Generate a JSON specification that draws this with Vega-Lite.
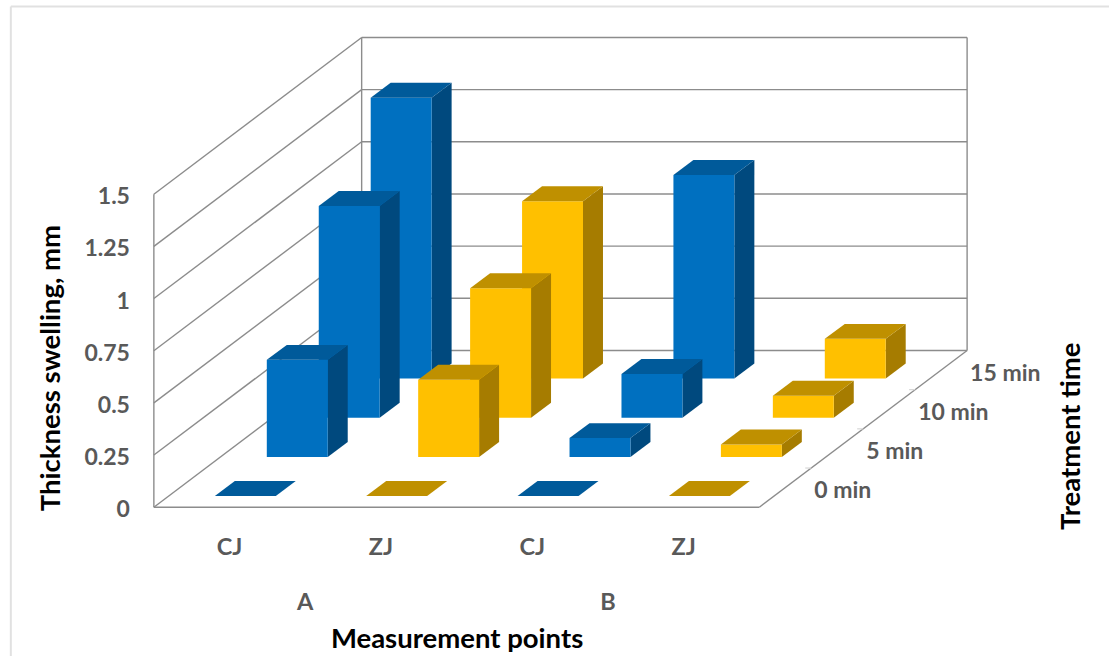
{"$schema":"https://vega.github.io/schema/vega-lite/v6.json","width":1110,"height":657,"padding":0,"autosize":{"type":"fit","contains":"padding"},"background":"white","config":{"view":{"stroke":null},"axis":{"disable":true}},
"datasets":{"bars":[
{"group":"A","joint":"CJ","time":"0 min","value":0},{"group":"A","joint":"ZJ","time":"0 min","value":0},{"group":"B","joint":"CJ","time":"0 min","value":0},{"group":"B","joint":"ZJ","time":"0 min","value":0},
{"group":"A","joint":"CJ","time":"5 min","value":0.465},{"group":"A","joint":"ZJ","time":"5 min","value":0.37},{"group":"B","joint":"CJ","time":"5 min","value":0.09},{"group":"B","joint":"ZJ","time":"5 min","value":0.06},
{"group":"A","joint":"CJ","time":"10 min","value":1.015},{"group":"A","joint":"ZJ","time":"10 min","value":0.62},{"group":"B","joint":"CJ","time":"10 min","value":0.21},{"group":"B","joint":"ZJ","time":"10 min","value":0.105},
{"group":"A","joint":"CJ","time":"15 min","value":1.345},{"group":"A","joint":"ZJ","time":"15 min","value":0.85},{"group":"B","joint":"CJ","time":"15 min","value":0.975},{"group":"B","joint":"ZJ","time":"15 min","value":0.19}],
"ticks":[{"value":0,"label":"0"},{"value":0.25,"label":"0.25"},{"value":0.5,"label":"0.5"},{"value":0.75,"label":"0.75"},{"value":1,"label":"1"},{"value":1.25,"label":"1.25"},{"value":1.5,"label":"1.5"}],
"times":[{"time":"0 min","d":0},{"time":"5 min","d":1},{"time":"10 min","d":2},{"time":"15 min","d":3}],
"joints":[{"joint":"CJ","c":0},{"joint":"ZJ","c":1},{"joint":"CJ","c":2},{"joint":"ZJ","c":3}],
"groups":[{"group":"A","c":1},{"group":"B","c":3}]},
"layer":[
{"data":{"name":"ticks"},"transform":[{"filter":"datum.value==1.5"}],"mark":{"type":"rule","color":"#e1e1e1","strokeWidth":2},"encoding":{"x":{"datum":-0.945,"type":"quantitative","scale":{"domain":[-1.0165,6.3102],"nice":false,"zero":false}},"y":{"datum":2.3995,"type":"quantitative","scale":{"domain":[-0.71292,2.43062],"nice":false,"zero":false}},"x2":{"datum":6.3102},"y2":{"datum":2.3995}}},
{"data":{"name":"ticks"},"transform":[{"filter":"datum.value==1.5"}],"mark":{"type":"rule","color":"#e1e1e1","strokeWidth":2},"encoding":{"x":{"datum":-0.945,"type":"quantitative","scale":{"domain":[-1.0165,6.3102],"nice":false,"zero":false}},"y":{"datum":2.3995,"type":"quantitative","scale":{"domain":[-0.71292,2.43062],"nice":false,"zero":false}},"x2":{"datum":-0.945},"y2":{"datum":-0.71292}}},
{"data":{"name":"ticks"},"transform":[{"calculate":"datum.value+0.7512","as":"yb"}],"mark":{"type":"rule","color":"#8c8c8c","strokeWidth":1.4},"encoding":{"x":{"datum":0,"type":"quantitative","scale":{"domain":[-1.0165,6.3102],"nice":false,"zero":false}},"x2":{"datum":1.3728},"y":{"field":"value","type":"quantitative","scale":{"domain":[-0.71292,2.43062],"nice":false,"zero":false}},"y2":{"field":"yb"}}},
{"data":{"name":"ticks"},"transform":[{"calculate":"datum.value+0.7512","as":"yb"}],"mark":{"type":"rule","color":"#8c8c8c","strokeWidth":1.4},"encoding":{"x":{"datum":1.3728,"type":"quantitative","scale":{"domain":[-1.0165,6.3102],"nice":false,"zero":false}},"x2":{"datum":5.3728},"y":{"field":"yb","type":"quantitative","scale":{"domain":[-0.71292,2.43062],"nice":false,"zero":false}},"y2":{"field":"yb"}}},
{"data":{"name":"ticks"},"transform":[{"filter":"datum.value==1.5"}],"mark":{"type":"rule","color":"#8c8c8c","strokeWidth":1.4},"encoding":{"x":{"datum":0,"type":"quantitative","scale":{"domain":[-1.0165,6.3102],"nice":false,"zero":false}},"y":{"field":"value","type":"quantitative","scale":{"domain":[-0.71292,2.43062],"nice":false,"zero":false}},"y2":{"datum":0}}},
{"data":{"name":"ticks"},"transform":[{"filter":"datum.value==1.5"}],"mark":{"type":"rule","color":"#8c8c8c","strokeWidth":1.4},"encoding":{"x":{"datum":1.3728,"type":"quantitative","scale":{"domain":[-1.0165,6.3102],"nice":false,"zero":false}},"y":{"datum":0.7512,"type":"quantitative","scale":{"domain":[-0.71292,2.43062],"nice":false,"zero":false}},"y2":{"datum":2.2512}}},
{"data":{"name":"ticks"},"transform":[{"filter":"datum.value==1.5"}],"mark":{"type":"rule","color":"#8c8c8c","strokeWidth":1.4},"encoding":{"x":{"datum":5.3728,"type":"quantitative","scale":{"domain":[-1.0165,6.3102],"nice":false,"zero":false}},"y":{"datum":0.7512,"type":"quantitative","scale":{"domain":[-0.71292,2.43062],"nice":false,"zero":false}},"y2":{"datum":2.2512}}},
{"data":{"name":"ticks"},"transform":[{"filter":"datum.value==0"}],"mark":{"type":"rule","color":"#8c8c8c","strokeWidth":1.4},"encoding":{"x":{"datum":0,"type":"quantitative","scale":{"domain":[-1.0165,6.3102],"nice":false,"zero":false}},"x2":{"datum":4},"y":{"field":"value","type":"quantitative","scale":{"domain":[-0.71292,2.43062],"nice":false,"zero":false}},"y2":{"field":"value"}}},
{"data":{"name":"ticks"},"transform":[{"filter":"datum.value==0"}],"mark":{"type":"rule","color":"#8c8c8c","strokeWidth":1.4},"encoding":{"x":{"datum":4,"type":"quantitative","scale":{"domain":[-1.0165,6.3102],"nice":false,"zero":false}},"x2":{"datum":5.3728},"y":{"field":"value","type":"quantitative","scale":{"domain":[-0.71292,2.43062],"nice":false,"zero":false}},"y2":{"datum":0.7512}}},
{"data":{"name":"times"},"transform":[{"filter":"datum.d>0"},{"calculate":"4+datum.d*0.3432","as":"tx"},{"calculate":"datum.tx-0.04","as":"tx2"},{"calculate":"datum.d*0.1878","as":"ty"}],"mark":{"type":"rule","color":"#d6d6d6","strokeWidth":1.2},"encoding":{"x":{"field":"tx","type":"quantitative","scale":{"domain":[-1.0165,6.3102],"nice":false,"zero":false}},"x2":{"field":"tx2"},"y":{"field":"ty","type":"quantitative","scale":{"domain":[-0.71292,2.43062],"nice":false,"zero":false}},"y2":{"field":"ty"}}},
{"data":{"name":"bars"},
"transform":[
{"calculate":"(datum.group=='B'?2:0)+(datum.joint=='ZJ'?1:0)","as":"c"},
{"calculate":"indexof(['0 min','5 min','10 min','15 min'],datum.time)","as":"d"},
{"calculate":"datum.c+0.300+(datum.d+0.3)*0.3432","as":"bx"},
{"calculate":"(datum.d+0.3)*0.1878-0.003","as":"by"},
{"fold":["side","front","top"],"as":["face","fv"]},
{"fold":["e0","e1"],"as":["edge","ev"]},
{"calculate":"datum.edge=='e1'?1:0","as":"e"},
{"calculate":"datum.bx+0.4026+datum.e*0.132","as":"ax"},
{"calculate":"datum.by+datum.e*0.0718","as":"ay"},
{"calculate":"datum.by+datum.value+datum.e*0.0718","as":"ay2"},
{"calculate":"datum.face=='front'?datum.by+datum.e*datum.value:datum.by+datum.value+datum.e*0.0718","as":"hy"},
{"calculate":"datum.face=='front'?datum.bx:datum.bx+datum.e*0.132","as":"hx"},
{"calculate":"datum.hx+0.4026","as":"hx2"},
{"calculate":"datum.joint+' '+datum.face","as":"shade"},
{"calculate":"datum.time+datum.group+datum.joint+datum.face","as":"gid"}],
"layer":[
{"transform":[{"filter":"datum.d==3 && datum.face=='side'"}],"mark":{"type":"area","orient":"vertical"},"encoding":{"x":{"field":"ax","type":"quantitative","scale":{"domain":[-1.0165,6.3102],"nice":false,"zero":false}},"y":{"field":"ay","type":"quantitative","stack":null,"scale":{"domain":[-0.71292,2.43062],"nice":false,"zero":false}},"y2":{"field":"ay2"},"detail":{"field":"gid"},"color":{"field":"shade","legend":null,"scale":{"domain":["CJ front","CJ side","CJ top","ZJ front","ZJ side","ZJ top"],"range":["#0070c0","#00497e","#005a9a","#ffc000","#a67c00","#bf9000"]}}}},
{"transform":[{"filter":"datum.d==3 && datum.face!='side'"}],"mark":{"type":"area","orient":"horizontal"},"encoding":{"y":{"field":"hy","type":"quantitative","scale":{"domain":[-0.71292,2.43062],"nice":false,"zero":false}},"x":{"field":"hx","type":"quantitative","stack":null,"scale":{"domain":[-1.0165,6.3102],"nice":false,"zero":false}},"x2":{"field":"hx2"},"detail":{"field":"gid"},"color":{"field":"shade","legend":null,"scale":{"domain":["CJ front","CJ side","CJ top","ZJ front","ZJ side","ZJ top"],"range":["#0070c0","#00497e","#005a9a","#ffc000","#a67c00","#bf9000"]}}}},
{"transform":[{"filter":"datum.d==2 && datum.face=='side'"}],"mark":{"type":"area","orient":"vertical"},"encoding":{"x":{"field":"ax","type":"quantitative","scale":{"domain":[-1.0165,6.3102],"nice":false,"zero":false}},"y":{"field":"ay","type":"quantitative","stack":null,"scale":{"domain":[-0.71292,2.43062],"nice":false,"zero":false}},"y2":{"field":"ay2"},"detail":{"field":"gid"},"color":{"field":"shade","legend":null,"scale":{"domain":["CJ front","CJ side","CJ top","ZJ front","ZJ side","ZJ top"],"range":["#0070c0","#00497e","#005a9a","#ffc000","#a67c00","#bf9000"]}}}},
{"transform":[{"filter":"datum.d==2 && datum.face!='side'"}],"mark":{"type":"area","orient":"horizontal"},"encoding":{"y":{"field":"hy","type":"quantitative","scale":{"domain":[-0.71292,2.43062],"nice":false,"zero":false}},"x":{"field":"hx","type":"quantitative","stack":null,"scale":{"domain":[-1.0165,6.3102],"nice":false,"zero":false}},"x2":{"field":"hx2"},"detail":{"field":"gid"},"color":{"field":"shade","legend":null,"scale":{"domain":["CJ front","CJ side","CJ top","ZJ front","ZJ side","ZJ top"],"range":["#0070c0","#00497e","#005a9a","#ffc000","#a67c00","#bf9000"]}}}},
{"transform":[{"filter":"datum.d==1 && datum.face=='side'"}],"mark":{"type":"area","orient":"vertical"},"encoding":{"x":{"field":"ax","type":"quantitative","scale":{"domain":[-1.0165,6.3102],"nice":false,"zero":false}},"y":{"field":"ay","type":"quantitative","stack":null,"scale":{"domain":[-0.71292,2.43062],"nice":false,"zero":false}},"y2":{"field":"ay2"},"detail":{"field":"gid"},"color":{"field":"shade","legend":null,"scale":{"domain":["CJ front","CJ side","CJ top","ZJ front","ZJ side","ZJ top"],"range":["#0070c0","#00497e","#005a9a","#ffc000","#a67c00","#bf9000"]}}}},
{"transform":[{"filter":"datum.d==1 && datum.face!='side'"}],"mark":{"type":"area","orient":"horizontal"},"encoding":{"y":{"field":"hy","type":"quantitative","scale":{"domain":[-0.71292,2.43062],"nice":false,"zero":false}},"x":{"field":"hx","type":"quantitative","stack":null,"scale":{"domain":[-1.0165,6.3102],"nice":false,"zero":false}},"x2":{"field":"hx2"},"detail":{"field":"gid"},"color":{"field":"shade","legend":null,"scale":{"domain":["CJ front","CJ side","CJ top","ZJ front","ZJ side","ZJ top"],"range":["#0070c0","#00497e","#005a9a","#ffc000","#a67c00","#bf9000"]}}}},
{"transform":[{"filter":"datum.d==0 && datum.face!='side'"}],"mark":{"type":"area","orient":"horizontal"},"encoding":{"y":{"field":"hy","type":"quantitative","scale":{"domain":[-0.71292,2.43062],"nice":false,"zero":false}},"x":{"field":"hx","type":"quantitative","stack":null,"scale":{"domain":[-1.0165,6.3102],"nice":false,"zero":false}},"x2":{"field":"hx2"},"detail":{"field":"gid"},"color":{"field":"shade","legend":null,"scale":{"domain":["CJ front","CJ side","CJ top","ZJ front","ZJ side","ZJ top"],"range":["#0070c0","#00497e","#005a9a","#ffc000","#a67c00","#bf9000"]}}}}
]},
{"data":{"name":"ticks"},"mark":{"type":"text","font":"Lato","fontWeight":"bold","fontSize":23,"color":"#595959","align":"right","baseline":"middle","dy":3},"encoding":{"x":{"datum":-0.158,"type":"quantitative","scale":{"domain":[-1.0165,6.3102],"nice":false,"zero":false}},"y":{"field":"value","type":"quantitative","scale":{"domain":[-0.71292,2.43062],"nice":false,"zero":false}},"text":{"field":"label"}}},
{"data":{"name":"joints"},"transform":[{"calculate":"datum.c+0.5","as":"lx"}],"mark":{"type":"text","font":"Lato","fontWeight":"bold","fontSize":23.5,"color":"#595959","align":"center","baseline":"middle"},"encoding":{"x":{"field":"lx","type":"quantitative","scale":{"domain":[-1.0165,6.3102],"nice":false,"zero":false}},"y":{"datum":-0.197,"type":"quantitative","scale":{"domain":[-0.71292,2.43062],"nice":false,"zero":false}},"text":{"field":"joint"}}},
{"data":{"name":"groups"},"mark":{"type":"text","font":"Lato","fontWeight":"bold","fontSize":23.5,"color":"#595959","align":"center","baseline":"middle"},"encoding":{"x":{"field":"c","type":"quantitative","scale":{"domain":[-1.0165,6.3102],"nice":false,"zero":false}},"y":{"datum":-0.457,"type":"quantitative","scale":{"domain":[-0.71292,2.43062],"nice":false,"zero":false}},"text":{"field":"group"}}},
{"data":{"name":"times"},"transform":[{"calculate":"4.363+datum.d*0.3432","as":"lx"},{"calculate":"0.0861+datum.d*0.1878","as":"ly"}],"mark":{"type":"text","font":"Lato","fontWeight":"bold","fontSize":23,"color":"#595959","align":"left","baseline":"middle","dy":2},"encoding":{"x":{"field":"lx","type":"quantitative","scale":{"domain":[-1.0165,6.3102],"nice":false,"zero":false}},"y":{"field":"ly","type":"quantitative","scale":{"domain":[-0.71292,2.43062],"nice":false,"zero":false}},"text":{"field":"time"}}},
{"data":{"values":[{"t":"Measurement points"}]},"mark":{"type":"text","font":"Lato","fontWeight":"bold","fontSize":27.5,"color":"#000000","align":"center","baseline":"middle"},"encoding":{"x":{"datum":2.003,"type":"quantitative","scale":{"domain":[-1.0165,6.3102],"nice":false,"zero":false}},"y":{"datum":-0.635,"type":"quantitative","scale":{"domain":[-0.71292,2.43062],"nice":false,"zero":false}},"text":{"field":"t"}}},
{"data":{"values":[{"t":"Thickness swelling, mm"}]},"mark":{"type":"text","font":"Lato","fontWeight":"bold","fontSize":27.5,"color":"#000000","align":"center","baseline":"middle","angle":270},"encoding":{"x":{"datum":-0.673,"type":"quantitative","scale":{"domain":[-1.0165,6.3102],"nice":false,"zero":false}},"y":{"datum":0.667,"type":"quantitative","scale":{"domain":[-0.71292,2.43062],"nice":false,"zero":false}},"text":{"field":"t"}}},
{"data":{"values":[{"t":"Treatment time"}]},"mark":{"type":"text","font":"Lato","fontWeight":"bold","fontSize":27.5,"color":"#000000","align":"center","baseline":"middle","angle":270},"encoding":{"x":{"datum":6.065,"type":"quantitative","scale":{"domain":[-1.0165,6.3102],"nice":false,"zero":false}},"y":{"datum":0.34,"type":"quantitative","scale":{"domain":[-0.71292,2.43062],"nice":false,"zero":false}},"text":{"field":"t"}}}
]}
